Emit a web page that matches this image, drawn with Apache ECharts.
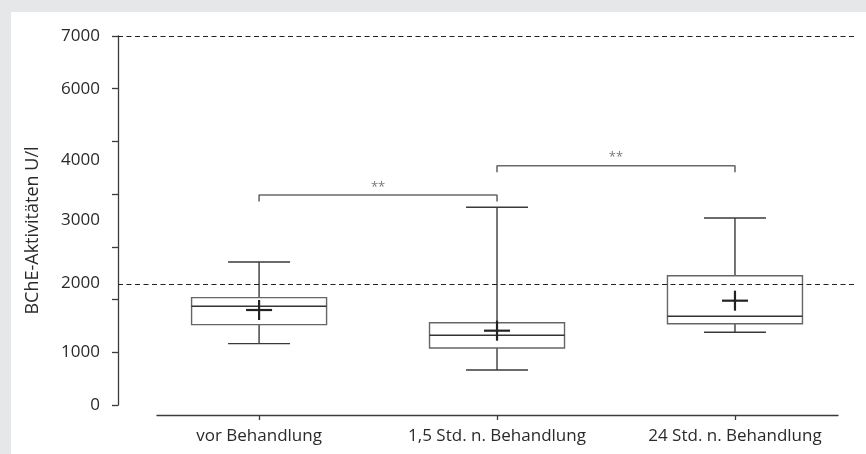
<!DOCTYPE html>
<html>
<head>
<meta charset="utf-8">
<script src="https://cdn.jsdelivr.net/npm/echarts@6/dist/echarts.min.js"></script>
<style>
html,body{margin:0;padding:0;background:#e6e7e9;}
#chart{width:866px;height:454px;}
</style>
</head>
<body>
<div id="chart"></div>
<script>
// ---- data ----
const categories = ['vor Behandlung', '1,5 Std. n. Behandlung', '24 Std. n. Behandlung'];
const whiskerLow  = [1164, 664, 1379];
const quartile1   = [1524, 1081, 1542];
const medians     = [1872, 1322, 1683];
const quartile3   = [2036, 1561, 2453];
const whiskerHigh = [2713, 3750, 3547];
const means       = [1802, 1410, 1979];

const referenceLines = [2300, 7000];

// significance brackets: [fromCategory, toCategory, height]
const bracketFrom   = [0, 1];
const bracketTo     = [1, 2];
const bracketHeight = [3984, 4540];
const bracketDrop   = 125;
const bracketLabels = ['**', '**'];

// y axis: tick marks and (shifted) tick labels as printed
const yTickValues  = [0, 1000, 2000, 3000, 4000, 5000, 6000, 7000];
const yLabelValues = [0, 1000, 2315, 3510, 4650, 6000, 7000];
const yLabelTexts  = ['0', '1000', '2000', '3000', '4000', '6000', '7000'];
const yName = 'BChE-Aktivitäten U/l';

// ---- build chart ----
const FONT = 'Open Sans';
const TXT = '#2a2a2a';
const boxData = categories.map((c, i) => [i, whiskerLow[i], quartile1[i], medians[i], quartile3[i], whiskerHigh[i], means[i]]);

const bracketSeries = bracketFrom.map((f, i) => ({
  type: 'line', xAxisIndex: 1, yAxisIndex: 1, silent: true,
  symbol: 'none',
  lineStyle: {color: '#6a6a6a', width: 1.6},
  data: [[f, bracketHeight[i] - bracketDrop], [f, bracketHeight[i]], [bracketTo[i], bracketHeight[i]], [bracketTo[i], bracketHeight[i] - bracketDrop]]
}));

const starSeries = {
  type: 'scatter', xAxisIndex: 1, yAxisIndex: 1, silent: true,
  symbolSize: 1, itemStyle: {color: 'rgba(0,0,0,0)'},
  label: {show: true, position: 'top', distance: 1, color: '#555', fontSize: 13, fontFamily: FONT,
    formatter: p => bracketLabels[p.dataIndex]},
  data: bracketFrom.map((f, i) => [(f + bracketTo[i]) / 2, bracketHeight[i]])
};

const chart = echarts.init(document.getElementById('chart'), null, {renderer: 'canvas'});
chart.setOption({
  animation: false,
  backgroundColor: '#e6e7e9',
  graphic: {elements: [{type: 'rect', z: -100, silent: true,
    shape: {x: 11, y: 12, width: 855, height: 442}, style: {fill: '#ffffff'}}]},
  grid: [
    {left: 118, right: 11, top: 36, bottom: 49},
    {left: 157, right: 28, top: 36, bottom: 49}
  ],
  xAxis: [
    {gridIndex: 0, type: 'value', min: -0.592, max: 2.504, show: false, axisLine: {onZero: false}},
    {gridIndex: 1, type: 'value', min: -0.429, max: 2.433, position: 'bottom', offset: 10,
      splitLine: {show: false},
      axisLine: {show: true, onZero: false, lineStyle: {color: '#3a3a3a', width: 1.3}},
      axisTick: {show: true, length: 5, customValues: categories.map((c, i) => i), lineStyle: {color: '#3a3a3a', width: 1.3}},
      axisLabel: {customValues: categories.map((c, i) => i), margin: 13, color: TXT, fontSize: 17, fontFamily: FONT,
        formatter: v => categories[Math.round(v)]}}
  ],
  yAxis: [
    {gridIndex: 0, type: 'value', min: 0, max: 7000, position: 'left', splitLine: {show: false},
      name: yName, nameLocation: 'middle', nameGap: 76, nameRotate: 90,
      nameTextStyle: {color: TXT, fontSize: 18, fontFamily: FONT, padding: [0, 20, 0, 0]},
      axisLine: {show: true, onZero: false, lineStyle: {color: '#3a3a3a', width: 1.3}},
      axisTick: {show: true, length: 6, customValues: yTickValues, lineStyle: {color: '#3a3a3a', width: 1.3}},
      axisLabel: {customValues: yLabelValues, margin: 18, color: TXT, fontSize: 17, fontFamily: FONT,
        formatter: v => yLabelTexts[yLabelValues.indexOf(v)]}},
    {gridIndex: 1, type: 'value', min: 0, max: 7000, show: false, axisLine: {onZero: false}}
  ],
  series: [
    {type: 'line', xAxisIndex: 0, yAxisIndex: 0, data: [], silent: true,
      markLine: {silent: true, symbol: 'none', label: {show: false},
        lineStyle: {color: '#222', type: [5, 3.5], width: 1.2},
        data: referenceLines.map(v => ({yAxis: v}))}},
    {type: 'custom', xAxisIndex: 1, yAxisIndex: 1, silent: true, data: boxData,
      renderItem: function (params, api) {
        const x = api.value(0);
        const lo = api.coord([x, api.value(1)]);
        const q1 = api.coord([x, api.value(2)]);
        const md = api.coord([x, api.value(3)]);
        const q3 = api.coord([x, api.value(4)]);
        const hi = api.coord([x, api.value(5)]);
        const mn = api.coord([x, api.value(6)]);
        const cx = lo[0];
        const bw = 135, cw = 62, mw = 26, mh = 20;
        const wStyle = {stroke: '#3a3a3a', lineWidth: 1.4};
        const bStyle = {stroke: '#666', lineWidth: 1.4, fill: null};
        const mStyle = {stroke: '#222', lineWidth: 2.2};
        return {type: 'group', children: [
          {type: 'line', shape: {x1: cx, y1: hi[1], x2: cx, y2: q3[1]}, style: wStyle},
          {type: 'line', shape: {x1: cx, y1: q1[1], x2: cx, y2: lo[1]}, style: wStyle},
          {type: 'line', shape: {x1: cx - cw / 2, y1: hi[1], x2: cx + cw / 2, y2: hi[1]}, style: wStyle},
          {type: 'line', shape: {x1: cx - cw / 2, y1: lo[1], x2: cx + cw / 2, y2: lo[1]}, style: wStyle},
          {type: 'rect', shape: {x: cx - bw / 2, y: q3[1], width: bw, height: q1[1] - q3[1]}, style: bStyle},
          {type: 'line', shape: {x1: cx - bw / 2, y1: md[1], x2: cx + bw / 2, y2: md[1]}, style: {stroke: '#333', lineWidth: 1.4}},
          {type: 'line', shape: {x1: cx - mw / 2, y1: mn[1], x2: cx + mw / 2, y2: mn[1]}, style: mStyle},
          {type: 'line', shape: {x1: cx, y1: mn[1] - mh / 2, x2: cx, y2: mn[1] + mh / 2}, style: mStyle}
        ]};
      }},
    ...bracketSeries,
    starSeries
  ]
});
</script>
</body>
</html>
